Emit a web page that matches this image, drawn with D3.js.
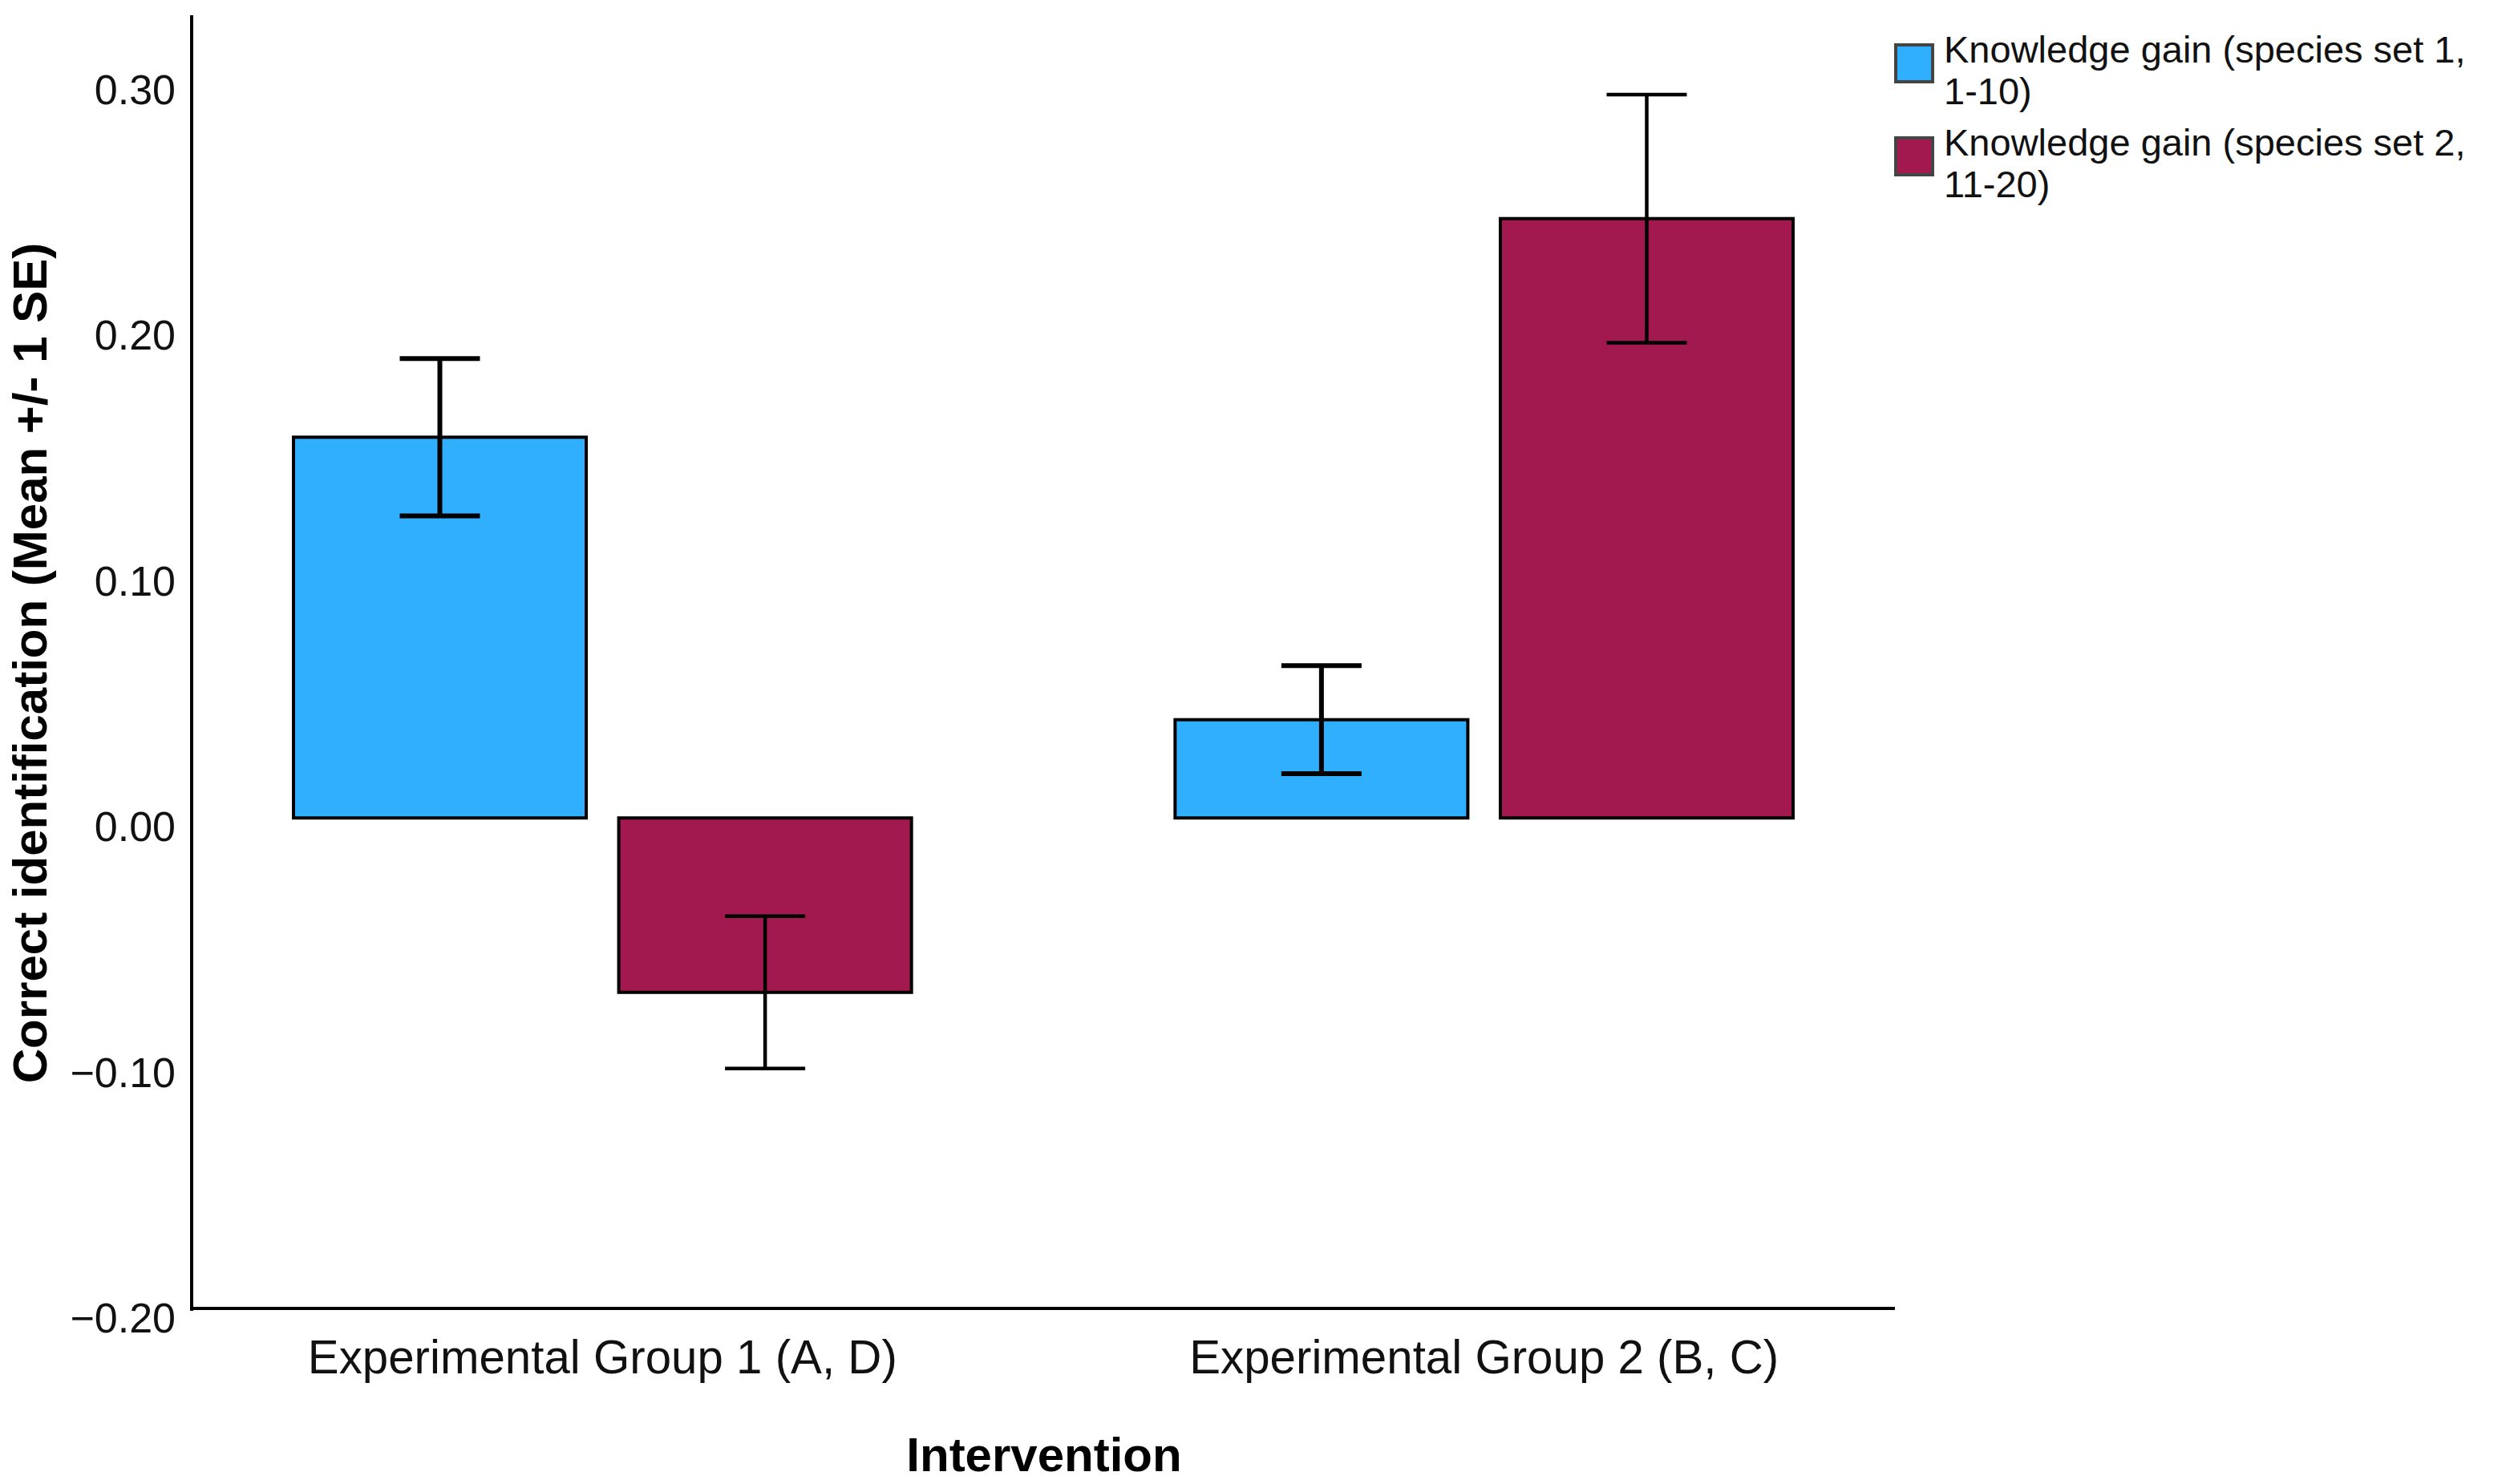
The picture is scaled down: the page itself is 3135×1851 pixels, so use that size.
<!DOCTYPE html>
<html>
<head>
<meta charset="utf-8">
<script src="https://cdn.jsdelivr.net/npm/d3@7"></script>
<style>
  html, body { margin: 0; padding: 0; background: #ffffff; }
  svg { display: block; }
  text { font-family: "Liberation Sans", Arial, "Helvetica", sans-serif; }
</style>
</head>
<body>
<script>
// ---- Data ----
const groups = ["Experimental Group 1 (A, D)", "Experimental Group 2 (B, C)"];
const seriesNames = ["Knowledge gain (species set 1, 1-10)", "Knowledge gain (species set 2, 11-20)"];
const legendLines = [["Knowledge gain (species set 1,", "1-10)"], ["Knowledge gain (species set 2,", "11-20)"]];
const meansSet1 = [0.155, 0.040];
const seSet1 = [0.032, 0.022];
const meansSet2 = [-0.071, 0.244];
const seSet2 = [0.031, 0.0505];
const yTicks = [-0.20, -0.10, 0.00, 0.10, 0.20, 0.30];
const colors = ["#30AFFF", "#A1194F"];
const yTitle = "Correct identification (Mean +/- 1 SE)";
const xTitle = "Intervention";

const W = 3135, H = 1851;
const svg = d3.select("body").append("svg").attr("width", W).attr("height", H);

const x0 = d3.scaleBand().domain(groups).range([239, 2363]).paddingInner(0.299).paddingOuter(0.1155);
const x1 = d3.scaleBand().domain([0, 1]).range([0, x0.bandwidth()]).paddingInner(0.1);
const y = d3.scaleLinear().domain([-0.2, 0.3268]).range([1633, 19]);

const data = [];
groups.forEach((g, gi) => {
  data.push({ g, s: 0, v: meansSet1[gi], se: seSet1[gi] });
  data.push({ g, s: 1, v: meansSet2[gi], se: seSet2[gi] });
});

// bars
svg.append("g").selectAll("rect").data(data).join("rect")
  .attr("x", d => x0(d.g) + x1(d.s))
  .attr("width", x1.bandwidth())
  .attr("y", d => y(Math.max(0, d.v)))
  .attr("height", d => Math.abs(y(d.v) - y(0)))
  .attr("fill", d => colors[d.s])
  .attr("stroke", "#000")
  .attr("stroke-width", 4);

// error bars
const capHalf = 50;
const eg = svg.append("g").attr("stroke", "#000").attr("fill", "none");
data.forEach(d => {
  const cx = x0(d.g) + x1(d.s) + x1.bandwidth() / 2;
  const yt = y(d.v + d.se), yb = y(d.v - d.se);
  const sw = d.s === 0 ? 6 : 4.5;
  eg.append("line").attr("stroke-width", sw).attr("x1", cx).attr("x2", cx).attr("y1", yt).attr("y2", yb);
  eg.append("line").attr("stroke-width", sw).attr("x1", cx - capHalf).attr("x2", cx + capHalf).attr("y1", yt).attr("y2", yt);
  eg.append("line").attr("stroke-width", sw).attr("x1", cx - capHalf).attr("x2", cx + capHalf).attr("y1", yb).attr("y2", yb);
});

// axes
const yAxis = d3.axisLeft(y).tickValues(yTicks).tickSize(0).tickPadding(20)
  .tickFormat(d => (d < 0 ? "\u2212" : "") + d3.format(".2f")(Math.abs(d)));
const ya = svg.append("g").attr("transform", "translate(239,0)").call(yAxis);
ya.select(".domain").attr("stroke", "#000").attr("stroke-width", 4).attr("d", `M0,${y.range()[1]}V${y.range()[0] + 2}`);
ya.selectAll(".tick text")
  .attr("font-size", 52).attr("fill", "#111")
  .attr("font-family", "'Liberation Sans', Arial, sans-serif")
  .attr("dy", null).attr("y", 28.5);

svg.append("line").attr("x1", 237).attr("x2", 2363).attr("y1", 1632).attr("y2", 1632)
  .attr("stroke", "#000").attr("stroke-width", 4);

// x labels
svg.append("g").selectAll("text").data(groups).join("text")
  .attr("x", d => x0(d) + x0.bandwidth() / 2)
  .attr("y", 1713)
  .attr("text-anchor", "middle")
  .attr("font-size", 60)
  .attr("textLength", 735).attr("lengthAdjust", "spacingAndGlyphs")
  .attr("fill", "#111")
  .text(d => d);

// axis titles
svg.append("text").attr("x", 1302).attr("y", 1835).attr("text-anchor", "middle")
  .attr("font-size", 60).attr("font-weight", "bold").attr("fill", "#000").text(xTitle);
svg.append("text").attr("transform", "translate(58,827) rotate(-90)").attr("text-anchor", "middle")
  .attr("font-size", 60).attr("font-weight", "bold").attr("fill", "#000").text(yTitle);

// legend
const lg = svg.append("g");
seriesNames.forEach((name, i) => {
  const top = 56 + i * 116;
  lg.append("rect").attr("x", 2364).attr("y", top).attr("width", 46).attr("height", 46)
    .attr("fill", colors[i]).attr("stroke", "#444").attr("stroke-width", 4);
  legendLines[i].forEach((ln, li) => {
    lg.append("text").attr("x", 2424).attr("y", 78 + i * 116 + li * 52)
      .attr("font-size", 47).attr("fill", "#111").text(ln);
  });
});
</script>
</body>
</html>
